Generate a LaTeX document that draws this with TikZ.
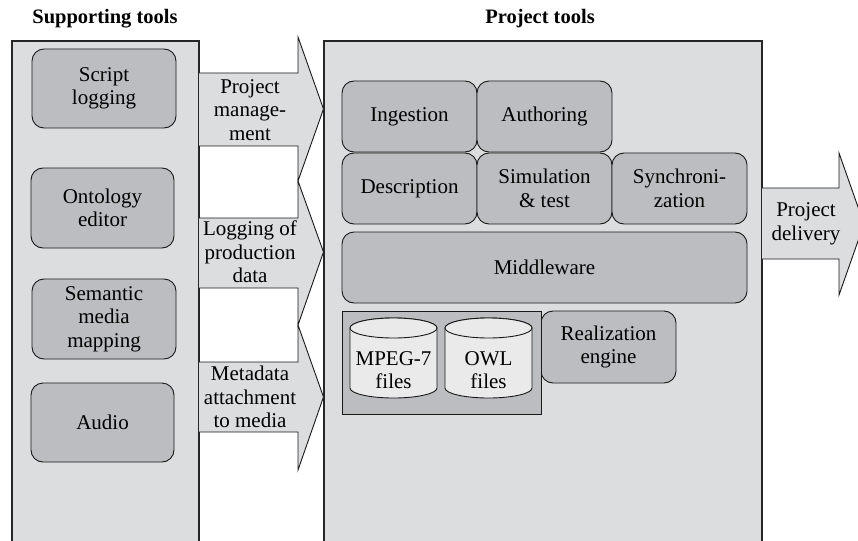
\documentclass[tikz,border=0pt]{standalone}
\usepackage{fontspec}
\setmainfont{Liberation Serif}
\begin{document}
\begin{tikzpicture}[x=1pt,y=-1pt,
  every node/.style={inner sep=0pt, font=\fontsize{21}{23.5}\selectfont, align=center},
  panel/.style={draw=black!85, line width=1.1pt, fill=panelgray},
  tool/.style={draw=black!90, line width=0.9pt, fill=boxgray, rounded corners=12pt,
    minimum width=#1, minimum height=71pt},
  tool/.default=135pt,
  blockarrow/.style={draw=black!90, line width=0.9pt, fill=panelgray, line join=miter},
  heading/.style={font=\fontsize{20.5}{24}\selectfont\bfseries},
  drum/.style={draw=black!90, line width=0.9pt, fill=drumgray}
]
\definecolor{panelgray}{HTML}{DCDDDF}
\definecolor{boxgray}{HTML}{BCBDC0}
\definecolor{drumgray}{HTML}{EAEAEB}
\useasboundingbox (0,0) rectangle (858,540);
\clip (0,0) rectangle (858,540);

% headings
\node[heading] (suphead) at (105,19) {Supporting tools};
\node[heading] (projhead) at (540,19) {Project tools};

% the two panels, running off the bottom edge
\draw[panel] (12,560) -- (12,41) -- (199,41) -- (199,560);
\draw[panel] (324,560) -- (324,41) -- (762,41) -- (762,560);

% block arrows between the panels
\fill[panelgray] (199,73) rectangle (298,146);
\draw[blockarrow] (199,73) -- (298,73) -- (298,37) -- (323.5,109) -- (298,181) -- (298,146) -- (199,146);
\fill[panelgray] (199,218) rectangle (298,288);
\draw[blockarrow] (199,218) -- (298,218) -- (298,181) -- (323.5,252) -- (298,325) -- (298,288) -- (199,288);
\fill[panelgray] (199,362) rectangle (298,432);
\draw[blockarrow] (199,362) -- (298,362) -- (298,325) -- (323.5,397) -- (298,470) -- (298,432) -- (199,432);
\draw[blockarrow] (762,188) -- (839,188) -- (839,153) -- (864,224) -- (839,295) -- (839,259) -- (762,259);

\node (pm)  at (250,110) {Project\\manage-\\ment};
\node (lpd) at (250,252) {Logging of\\production\\data};
\node (mam) at (250,397) {Metadata\\attachment\\to media};
\node (pd)  at (806,224) {Project\\delivery};

% supporting tools
\node[tool=144pt, minimum height=79pt] (script)   at (104,88.5)  {Script\\logging};
\node[tool=143pt, minimum height=80pt] (onto)     at (102.5,208) {Ontology\\editor};
\node[tool=144pt, minimum height=80pt] (semantic) at (104,319)   {Semantic\\media\\mapping};
\node[tool=143pt, minimum height=79pt] (audio)    at (102.5,422.5) {Audio};

% project tools
\node[tool] (ingest)  at (409.5,116.5) {Ingestion};
\node[tool] (author)  at (544.5,116.5) {Authoring};
\node[tool] (descr)   at (409.5,188.5) {Description};
\node[tool] (sim)     at (544.5,188.5) {Simulation\\\& test};
\node[tool] (sync)    at (679.5,188.5) {Synchroni-\\zation};
\node[tool=405pt] (middle) at (544.5,267.5) {Middleware};
\node[tool, minimum height=72pt] (realize) at (608.5,347) {Realization\\engine};

% file store with two drums
\node[draw=black!90, line width=0.9pt, fill=boxgray, minimum width=199pt, minimum height=103pt] (store) at (441.5,362.5) {};
\foreach \cx/\nm in {393.5/mpeg, 488.5/owl}{
  \draw[drum] (\cx-43.5,328) -- (\cx-43.5,388) arc (180:360:43.5pt and 10pt)
    -- (\cx+43.5,328) arc (0:180:43.5pt and 10pt) -- cycle;
  \draw[drum] (\cx,328) ellipse (43.5pt and 10pt);
}
\node (mpeg) at (393.5,370) {MPEG-7\\files};
\node (owl)  at (488.5,370) {OWL\\files};
\end{tikzpicture}
\end{document}
